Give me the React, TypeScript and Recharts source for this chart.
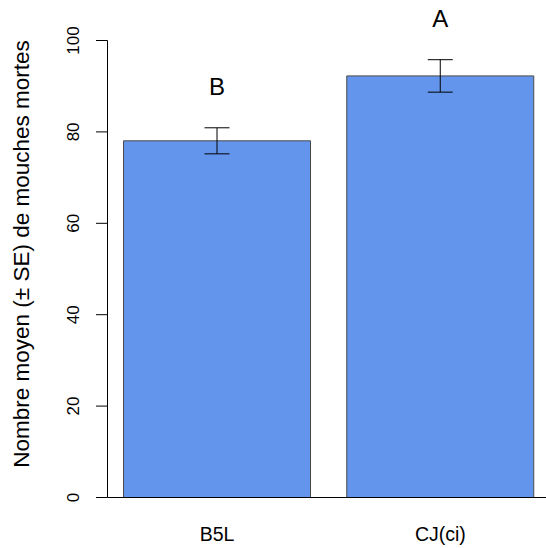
import { Bar, BarChart, ErrorBar, LabelList, XAxis, YAxis } from "recharts";

const groups = ["B5L", "CJ(ci)"];
const means = [78.05, 92.25];
const errors = [2.85, 3.55];
const letters = ["B", "A"];
const letterAt = [89.9, 104.9];
const yTicks = [0, 20, 40, 60, 80, 100];

const data = groups.map((g, i) => ({
  name: g,
  mean: means[i],
  se: errors[i],
  letter: letters[i],
}));

const FONT = "'Liberation Sans', Arial, sans-serif";

const YTick = (props: any) => {
  const { y, payload } = props;
  return (
    <text
      x={79}
      y={y}
      transform={`rotate(-90, 79, ${y})`}
      textAnchor="middle"
      fontSize={17}
      fontFamily={FONT}
      fill="#000"
    >
      {payload.value}
    </text>
  );
};

const XTick = (props: any) => {
  const { x, payload } = props;
  return (
    <text x={x} y={540.7} textAnchor="middle" fontSize={19.5} fontFamily={FONT} fill="#000">
      {payload.value}
    </text>
  );
};

const LetterLabel = (props: any) => {
  const { x, y, width, height, index, value } = props;
  const ppu = height / means[index];
  const cy = y + (means[index] - letterAt[index]) * ppu;
  return (
    <text
      x={x + width / 2}
      y={cy + 0.358 * 24}
      textAnchor="middle"
      fontSize={24}
      fontFamily={FONT}
      fill="#000"
    >
      {value}
    </text>
  );
};

const App = () => {
  return (
    <div style={{ position: "absolute", left: 0, top: 0, width: 546, height: 548, overflow: "hidden", background: "#fff" }}>
      <BarChart
        width={550}
        height={548}
        data={data}
        margin={{ top: 40.5, right: 0, bottom: 0, left: 0 }}
        barSize={187}
      >
        <XAxis
          dataKey="name"
          height={50.5}
          axisLine={{ stroke: "#000", strokeWidth: 1 }}
          tickLine={false}
          tick={<XTick />}
          padding={{ left: -2, right: -2 }}
        />
        <YAxis
          width={107.5}
          domain={[0, 100]}
          ticks={yTicks}
          type="number"
          axisLine={{ stroke: "#000", strokeWidth: 1 }}
          tickLine={{ stroke: "#000", strokeWidth: 1 }}
          tickSize={11.5}
          tick={<YTick />}
          label={{
            content: () => (
              <text
                x={29.4}
                y={254}
                transform="rotate(-90, 29.4, 254)"
                textAnchor="middle"
                fontSize={22.5}
                fontFamily={FONT}
                fill="#000"
              >
                Nombre moyen (± SE) de mouches mortes
              </text>
            ),
          }}
        />
        <Bar dataKey="mean" fill="#6495ED" stroke="#4a4a4a" strokeWidth={1} isAnimationActive={false}>
          <ErrorBar dataKey="se" width={12.5} stroke="#000" strokeWidth={1} direction="y" />
          <LabelList dataKey="letter" content={<LetterLabel />} />
        </Bar>
      </BarChart>
    </div>
  );
};

export default App;
